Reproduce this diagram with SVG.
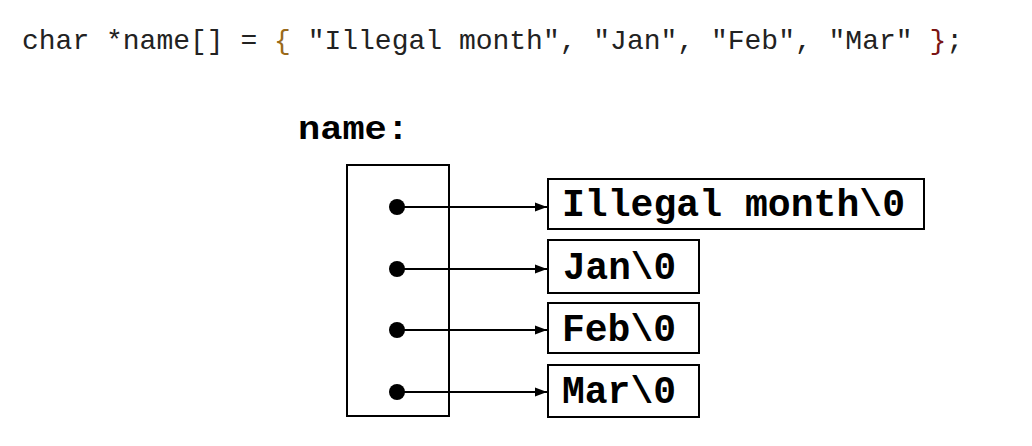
<svg xmlns="http://www.w3.org/2000/svg" width="1032" height="446" viewBox="0 0 1032 446">
<defs>
<style>
.code{font-family:"Liberation Mono","Courier New",monospace;font-size:28px;fill:#222}
.lbl{font-family:"Liberation Mono","Courier New",monospace;font-weight:bold;fill:#000}
.box{fill:#fff;stroke:#000;stroke-width:2}
.con{stroke:#000;stroke-width:1.8;fill:none}
</style>
<marker id="ah" viewBox="0 0 12 10" refX="12" refY="5" markerWidth="12" markerHeight="10" markerUnits="userSpaceOnUse" orient="auto">
<path d="M0,0.5 L12,5 L0,9.5 Z" fill="#000"/>
</marker>
</defs>
<rect width="1032" height="446" fill="#fff"/>
<text class="code" x="22" y="49" xml:space="preserve">char *name[] = <tspan fill="#9a6a1a">{</tspan> "Illegal month", "Jan", "Feb", "Mar" <tspan fill="#7a1414">}</tspan>;</text>
<g id="name-label"><text class="lbl" x="298" y="139" font-size="34" textLength="111" lengthAdjust="spacingAndGlyphs">name:</text></g>
<g id="name-array">
<rect class="box" x="347" y="165" width="102" height="251"/>
<circle cx="397" cy="207" r="8"/>
<circle cx="397" cy="269" r="8"/>
<circle cx="397" cy="330" r="8"/>
<circle cx="397" cy="392" r="8"/>
</g>
<g id="str-illegal"><rect class="box" x="548" y="179" width="376" height="50"/><text class="lbl" x="562" y="216" font-size="38" textLength="343" lengthAdjust="spacingAndGlyphs">Illegal month\0</text></g>
<g id="str-jan"><rect class="box" x="548" y="240" width="151" height="53"/><text class="lbl" x="563" y="279" font-size="38" textLength="113" lengthAdjust="spacingAndGlyphs">Jan\0</text></g>
<g id="str-feb"><rect class="box" x="548" y="303" width="151" height="50"/><text class="lbl" x="562" y="341" font-size="38" textLength="114" lengthAdjust="spacingAndGlyphs">Feb\0</text></g>
<g id="str-mar"><rect class="box" x="548" y="365" width="151" height="52"/><text class="lbl" x="562" y="403" font-size="38" textLength="114" lengthAdjust="spacingAndGlyphs">Mar\0</text></g>
<g id="connectors">
<line class="con" x1="397" y1="207" x2="547" y2="207" marker-end="url(#ah)"/>
<line class="con" x1="397" y1="269" x2="547" y2="269" marker-end="url(#ah)"/>
<line class="con" x1="397" y1="330" x2="547" y2="330" marker-end="url(#ah)"/>
<line class="con" x1="397" y1="392" x2="547" y2="392" marker-end="url(#ah)"/>
</g>
</svg>
